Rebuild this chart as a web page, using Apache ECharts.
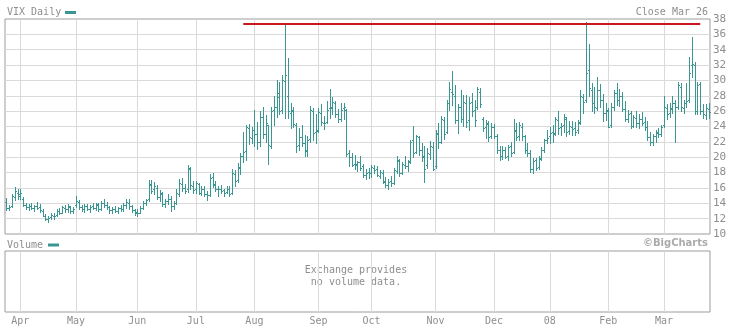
<!DOCTYPE html>
<html><head><meta charset="utf-8">
<script src="https://cdn.jsdelivr.net/npm/echarts@6/dist/echarts.min.js"></script>
<style>html,body{margin:0;padding:0;background:#fff}#c{width:747px;height:327px}</style>
</head><body><div id="c"></div>
<script>
// ---- calendar (trading days) ----
const firstDay = '2007-03-26';
const lastDay = '2008-03-26';
const holidays = ['2007-04-06','2007-05-28','2007-07-04','2007-09-03','2007-11-22','2007-12-25',
                  '2008-01-01','2008-01-21','2008-02-18','2008-03-21'];
// label per calendar month (Jan shows the year)
const monthNames = ['08','Feb','Mar','Apr','May','Jun','Jul','Aug','Sep','Oct','Nov','Dec'];

// ---- VIX daily OHLC ----
const opens = [
 14.2,13.4,13.6,14.8,15.4,
 15.2,14.6,13.8,13.5,13.6,13.4,13.7,13.5,13.0,12.4,12.0,12.2,12.4,12.5,13.0,12.8,13.4,13.3,13.5,13.0,
 13.8,14.2,13.5,13.2,13.6,13.3,13.6,13.4,13.8,13.3,14.0,13.8,13.5,13.1,13.3,13.0,13.4,13.2,13.8,14.1,13.6,13.1,
 12.9,12.8,13.4,14.1,14.5,16.4,15.8,16.0,14.8,15.2,13.9,14.3,14.6,13.6,14.0,15.2,16.5,16.0,15.8,18.5,16.3,
 15.8,16.5,15.4,15.9,15.2,15.1,17.4,16.5,15.8,15.9,15.7,15.5,15.8,15.3,17.8,17.0,18.7,20.2,20.8,23.8,22.5,
 23.6,23.0,22.0,25.2,23.0,24.2,21.5,26.2,26.5,27.8,26.1,29.9,28.0,25.8,26.0,24.2,21.6,22.6,21.9,20.9,22.4,26.0,23.3,
 23.6,25.8,24.5,24.6,26.4,26.4,27.0,25.6,25.0,26.4,26.2,20.5,20.0,19.1,19.1,19.4,18.8,17.7,18.1,
 17.9,18.6,18.5,17.6,18.0,16.8,16.4,16.9,16.7,18.2,19.5,18.0,19.0,18.9,19.5,22.2,20.7,22.6,21.0,20.2,19.0,20.4,21.3,
 18.8,23.0,22.0,24.8,23.3,27.0,28.5,28.0,24.8,26.6,25.0,27.1,24.8,27.2,26.1,26.5,28.5,25.0,23.9,24.3,22.7,
 23.9,22.8,21.0,20.2,20.9,20.1,21.4,20.7,23.4,22.7,24.0,22.8,21.0,20.6,18.5,19.6,18.7,19.9,21.0,22.2,
 22.8,23.3,23.2,24.8,23.9,24.2,25.0,23.4,24.0,23.8,23.5,24.5,27.9,27.5,31.3,28.8,27.0,26.4,28.7,27.4,25.8,
 26.0,24.2,26.5,28.3,27.5,28.0,26.3,25.0,25.7,24.1,25.1,24.5,25.0,24.6,24.0,22.6,22.0,22.8,23.2,23.0,
 24.2,26.4,25.7,26.4,27.0,26.6,29.2,26.4,27.0,27.5,32.0,32.0,26.0,29.5,26.0,25.5,26.3
];
const highs = [
 14.7,13.8,15.2,16.1,15.9,
 15.9,14.8,14.1,13.9,14.1,13.8,14.2,13.9,13.2,12.6,12.4,12.8,12.7,13.3,13.4,13.7,13.8,13.9,13.7,13.5,
 15.0,14.4,13.8,13.9,13.9,13.8,14.0,14.1,14.0,14.3,14.6,14.2,13.7,13.5,13.6,13.5,13.8,14.1,14.6,14.5,13.8,13.3,
 13.2,13.6,14.3,14.6,17.0,17.0,16.8,16.4,15.7,15.5,14.6,15.2,14.9,14.3,15.8,17.2,17.3,16.5,19.0,18.7,16.9,
 16.9,16.6,16.2,16.3,15.6,17.8,18.0,16.9,16.2,16.4,15.9,16.3,16.2,18.5,18.4,19.3,20.6,23.3,24.2,24.3,24.0,
 26.2,24.6,26.0,26.5,25.5,24.2,26.5,28.0,30.0,29.8,30.7,37.5,32.9,27.0,26.6,24.5,23.8,24.2,22.9,22.8,26.7,26.4,25.6,
 26.4,26.9,25.4,27.3,28.9,27.8,27.3,26.3,27.1,27.0,26.3,20.9,20.6,20.3,19.5,20.1,19.1,18.5,18.6,
 19.0,19.0,18.9,18.4,18.3,17.4,17.2,17.6,18.6,20.1,19.8,19.4,20.2,19.6,22.3,24.1,22.9,22.8,21.9,21.5,21.2,22.1,22.0,
 23.5,24.5,25.4,25.2,27.4,29.8,31.2,29.4,26.9,28.7,28.1,28.1,27.8,28.3,27.4,29.2,29.0,25.2,24.8,24.7,24.5,
 24.3,23.0,21.5,21.4,21.3,21.6,22.0,25.0,24.4,24.6,24.5,22.9,21.8,21.0,19.9,19.9,20.2,21.3,22.4,23.5,
 24.0,24.2,25.3,26.0,24.5,25.6,25.3,24.7,24.7,24.6,24.9,28.7,28.2,37.6,34.7,29.6,29.2,30.4,29.5,28.2,27.0,
 26.4,27.0,28.8,29.6,28.9,28.5,27.3,26.2,26.0,25.5,26.0,25.6,25.9,25.3,24.7,23.3,23.0,23.6,23.8,24.2,
 28.0,26.9,27.0,28.0,27.5,29.8,29.6,27.5,29.6,33.0,35.6,32.4,29.8,29.8,26.9,26.9,27.0
];
const lows = [
 13.1,13.1,13.5,14.4,14.5,
 14.6,13.6,13.2,13.1,13.3,13.0,13.3,12.9,12.3,11.8,11.6,11.9,12.0,12.3,12.6,12.7,12.9,12.9,12.8,12.7,
 13.5,13.3,13.0,12.9,13.1,12.9,13.2,13.1,13.0,13.1,13.5,13.3,12.8,12.8,12.9,12.8,13.0,13.0,13.4,13.3,12.9,12.5,
 12.4,12.7,13.3,13.8,14.3,15.4,15.2,14.6,14.3,13.6,13.5,13.9,13.0,13.2,13.9,15.0,15.6,15.3,15.5,15.8,15.3,
 15.4,15.2,15.1,14.9,14.4,15.0,16.1,15.6,15.0,15.4,15.0,15.3,14.9,15.2,16.3,16.8,17.8,19.4,19.6,21.7,21.8,
 21.5,21.1,21.5,22.5,22.0,19.1,21.2,24.2,25.3,25.6,25.8,25.1,25.1,23.8,23.9,20.7,21.0,21.4,20.2,20.2,22.0,22.3,21.8,
 23.3,24.2,23.7,24.4,25.1,25.6,25.3,24.6,24.7,25.0,20.2,18.8,18.9,18.5,18.2,18.3,17.4,17.2,17.3,
 17.4,18.0,17.6,17.3,16.7,16.1,15.9,16.3,16.5,17.9,17.6,17.8,18.6,18.2,19.3,20.0,20.5,20.3,19.5,16.8,18.6,19.8,18.3,
 18.6,21.2,21.8,22.4,23.1,26.2,26.8,24.5,23.2,24.6,24.1,24.0,23.6,25.4,24.1,26.3,26.5,23.4,22.5,22.1,22.5,
 22.5,20.6,19.6,19.8,19.9,19.7,20.1,20.5,22.3,22.2,22.3,20.5,20.2,18.1,18.0,18.3,18.5,19.6,20.7,21.8,
 21.8,22.0,22.9,23.0,22.9,23.3,22.7,23.0,22.9,22.9,23.2,24.3,25.8,27.2,28.0,26.0,25.8,26.2,26.5,24.7,24.8,
 24.0,24.0,26.2,26.8,26.7,26.0,24.7,24.6,23.8,23.9,24.0,23.8,24.2,23.6,22.3,21.6,21.6,22.0,22.6,22.8,
 24.0,25.0,25.2,25.7,22.0,26.3,26.0,25.8,26.6,27.2,30.4,25.6,25.6,25.6,25.1,25.0,25.1
];
const closes = [
 13.4,13.5,14.9,15.6,14.9,
 15.4,13.8,13.5,13.7,13.4,13.6,13.4,13.1,12.4,12.0,12.1,12.5,12.3,13.0,12.8,13.5,13.2,13.6,13.0,13.3,
 14.3,13.5,13.2,13.6,13.3,13.5,13.4,13.9,13.3,14.0,13.8,13.5,13.1,13.3,13.0,13.4,13.2,13.8,14.2,13.6,13.1,12.8,
 12.7,13.4,14.1,14.4,16.5,15.6,16.2,14.8,15.3,13.9,14.3,14.5,13.6,14.0,15.3,16.6,16.0,15.6,18.6,16.4,15.7,
 16.6,15.4,15.9,15.2,15.1,17.3,16.4,15.8,15.9,15.6,15.4,15.8,15.2,17.9,16.9,18.6,20.1,20.7,24.0,22.6,23.5,
 23.0,22.0,25.2,23.0,24.4,21.6,26.0,26.5,28.3,26.0,30.0,30.7,26.0,26.2,24.3,21.5,22.6,21.9,20.8,22.2,26.2,23.1,23.4,
 25.9,24.6,24.5,26.2,26.5,27.2,25.6,25.0,26.2,26.5,20.4,20.0,19.0,19.0,19.4,18.6,17.7,18.0,18.0,
 18.7,18.4,17.7,18.1,16.9,16.4,16.8,16.6,18.3,19.7,17.9,19.1,18.8,19.4,22.0,20.6,22.8,21.0,20.0,18.5,20.5,21.5,18.5,
 23.2,22.0,25.0,23.0,27.0,28.9,28.2,24.9,26.6,25.0,27.2,24.6,27.0,26.0,24.9,28.9,26.9,23.8,24.4,22.6,24.0,
 22.8,21.0,20.1,20.9,20.0,21.3,20.5,23.6,22.6,24.2,22.8,21.0,20.6,18.5,19.5,18.6,19.8,20.9,22.2,22.5,
 23.2,23.0,25.0,23.8,24.1,25.2,23.3,24.1,23.7,23.3,24.6,28.0,27.2,31.0,29.0,27.0,26.5,28.8,27.5,25.8,26.2,
 24.0,26.5,28.4,27.5,28.0,26.3,25.0,25.6,24.1,25.2,24.4,25.0,24.5,24.0,22.6,22.0,22.8,23.3,23.0,24.0,
 26.5,25.6,26.3,27.0,26.5,29.4,26.5,27.0,27.3,31.0,32.2,26.0,29.4,26.0,25.6,26.4,25.9
];
// resistance line drawn on the chart
const resistance = { from: '2007-07-26', to: '2008-03-20', level: 37.4 };
const yTicks = { min: 10, max: 38, step: 2 };

// ---- build trading-day categories ----
const dates = [];
(function () {
  const d = new Date(firstDay + 'T00:00:00Z');
  const end = new Date(lastDay + 'T00:00:00Z');
  while (d <= end) {
    const wd = d.getUTCDay();
    const s = d.toISOString().slice(0, 10);
    if (wd !== 0 && wd !== 6 && holidays.indexOf(s) < 0) dates.push(s);
    d.setUTCDate(d.getUTCDate() + 1);
  }
})();
const isMonthStart = dates.map((s, i) => i > 0 && s.slice(5, 7) !== dates[i - 1].slice(5, 7));
const monthInterval = (i) => isMonthStart[i];

const ohlc = dates.map((s, i) => [i, opens[i], highs[i], lows[i], closes[i]]);

const TEAL = '#3a9690';
const GRIDC = '#dadada';
const BORDER = '#9c9c9c';
const TXT = '#8e8e8e';
const MONO = '"DejaVu Sans Mono", monospace';

const chart = echarts.init(document.getElementById('c'), null, { renderer: 'canvas' });
chart.setOption({
  animation: false,
  backgroundColor: '#fff',
  grid: [
    { left: 5, top: 19, width: 705, height: 215, show: true, borderColor: BORDER, borderWidth: 1, outerBoundsMode: 'none', containLabel: false },
    { left: 5, top: 251, width: 705, height: 61, show: true, borderColor: BORDER, borderWidth: 1, outerBoundsMode: 'none', containLabel: false }
  ],
  xAxis: [
    { type: 'category', gridIndex: 0, data: dates, boundaryGap: true,
      axisLine: { show: false }, axisTick: { show: false }, axisLabel: { show: false },
      splitLine: { show: true, interval: monthInterval, alignWithLabel: true, lineStyle: { color: GRIDC, width: 1 } } },
    { type: 'category', gridIndex: 1, data: dates, boundaryGap: true,
      axisLine: { show: false }, axisTick: { show: false },
      axisLabel: { show: true, interval: monthInterval, color: TXT, fontFamily: MONO, fontSize: 10, margin: 4,
        formatter: (v) => monthNames[(+v.slice(5, 7)) - 1] },
      splitLine: { show: true, interval: monthInterval, alignWithLabel: true, lineStyle: { color: GRIDC, width: 1 } } }
  ],
  yAxis: [
    { type: 'value', gridIndex: 0, position: 'right', min: yTicks.min, max: yTicks.max, interval: yTicks.step,
      axisLine: { show: false }, axisTick: { show: false },
      axisLabel: { color: TXT, fontFamily: MONO, fontSize: 11, margin: 3 },
      splitLine: { show: true, showMinLine: false, showMaxLine: false, lineStyle: { color: GRIDC, width: 1 } } },
    { type: 'value', gridIndex: 1, min: 0, max: 1, show: false, splitLine: { show: false } }
  ],
  series: [{
    type: 'custom',
    xAxisIndex: 0, yAxisIndex: 0,
    data: ohlc,
    encode: { x: 0, y: [1, 2, 3, 4] },
    renderItem: function (params, api) {
      const i = api.value(0);
      const pO = api.coord([i, api.value(1)]);
      const pH = api.coord([i, api.value(2)]);
      const pL = api.coord([i, api.value(3)]);
      const pC = api.coord([i, api.value(4)]);
      const x = Math.round(pH[0]) + 0.5;
      const yo = Math.round(pO[1]) + 0.5;
      const yc = Math.round(pC[1]) + 0.5;
      const st = { stroke: TEAL, lineWidth: 1 };
      return { type: 'group', children: [
        { type: 'line', shape: { x1: x, y1: Math.round(pH[1]), x2: x, y2: Math.round(pL[1]) + 1 }, style: st },
        { type: 'line', shape: { x1: x - 1.5, y1: yo, x2: x, y2: yo }, style: st },
        { type: 'line', shape: { x1: x, y1: yc, x2: x + 1.5, y2: yc }, style: st }
      ]};
    },
    markLine: {
      silent: true, symbol: 'none', animation: false,
      label: { show: false },
      lineStyle: { color: '#c9161f', width: 2, type: 'solid' },
      data: [[
        { coord: [dates.indexOf(resistance.from), resistance.level] },
        { coord: [dates.indexOf(resistance.to), resistance.level] }
      ]]
    }
  }],
  graphic: [
    { type: 'text', x: 7, y: 12, style: { text: 'VIX Daily', font: '10px ' + MONO, fill: TXT, align: 'left', verticalAlign: 'middle' } },
    { type: 'rect', shape: { x: 65, y: 11, width: 11, height: 3 }, style: { fill: TEAL } },
    { type: 'text', x: 708, y: 12, style: { text: 'Close Mar 26', font: '10px ' + MONO, fill: TXT, align: 'right', verticalAlign: 'middle' } },
    { type: 'text', x: 7, y: 245, style: { text: 'Volume', font: '10px ' + MONO, fill: TXT, align: 'left', verticalAlign: 'middle' } },
    { type: 'rect', shape: { x: 48, y: 243.5, width: 11, height: 3 }, style: { fill: TEAL } },
    { type: 'text', x: 708, y: 243.5, style: { text: '\u00a9BigCharts', font: 'bold 10px "DejaVu Sans", sans-serif', fill: '#ababab', align: 'right', verticalAlign: 'middle' } },
    { type: 'text', x: 356, y: 270, style: { text: 'Exchange provides', font: '10px ' + MONO, fill: TXT, align: 'center', verticalAlign: 'middle' } },
    { type: 'text', x: 356, y: 282, style: { text: 'no volume data.', font: '10px ' + MONO, fill: TXT, align: 'center', verticalAlign: 'middle' } }
  ]
});
</script></body></html>
